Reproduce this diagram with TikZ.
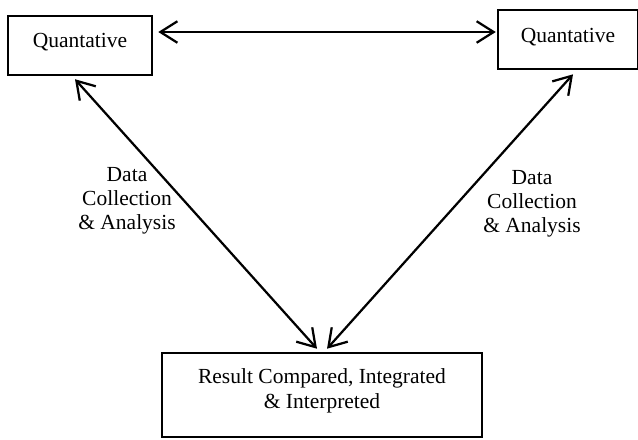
\documentclass[tikz,border=0pt]{standalone}
\usepackage{fontspec}
\setmainfont{Liberation Serif}
\usepackage{tikz}
\usetikzlibrary{arrows.meta}
\tikzset{
	main box/.style={draw,line width=1.4pt,inner sep=0pt,font=\fontsize{12}{13.4}\selectfont},
	side label/.style={align=center,font=\fontsize{12}{13.4}\selectfont}
}

\begin{document}
\begin{tikzpicture}[<->,>={Straight Barb[length=9.5pt,width=12pt]},line width=1.25pt,
	    x=0.558pt,y=-0.558pt]
	\useasboundingbox (0,0) rectangle (638,439);
	% the three boxes
	\node [main box,minimum width=80.4pt,text height=17.3pt,text depth=15.6pt] (1) at (80,45.5) {Quantative};
	\node [main box,minimum width=78.1pt,text height=17.9pt,text depth=15.1pt] (2) at (568,39.5) {Quantative};
	\node [main box,align=center,minimum width=178.6pt,text height=30.7pt,text depth=16.2pt] (3) at (322,395)
		{Result Compared, Integrated\\\& Interpreted};
	\node [side label] (4) at (127,200.5) {Data\\Collection\\\& Analysis};
	\node [side label] (5) at (532,203.5) {Data\\Collection\\\& Analysis};
	\draw ([shift={(5,-13.5)}]1.east) -- ([shift={(-1,-7.5)}]2.west);
	\draw ([shift={(-5,3)}]1.south) -- ([shift={(-5,-3)}]3.north);
	\draw ([shift={(5,4)}]2.south) -- ([shift={(5,-3)}]3.north);
\end{tikzpicture}
\end{document}
